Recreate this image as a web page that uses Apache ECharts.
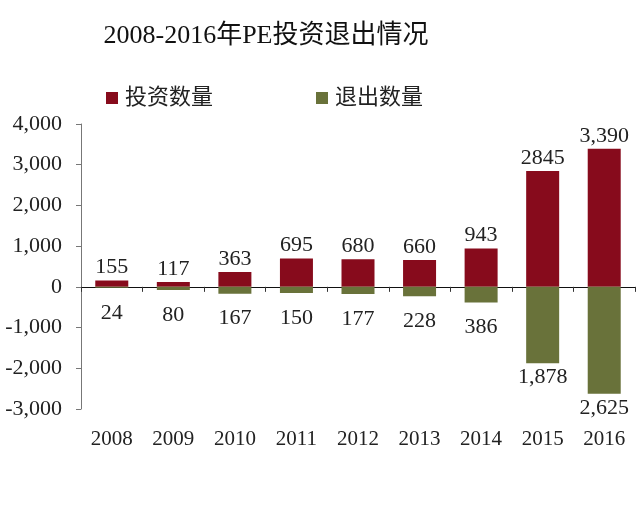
<!DOCTYPE html>
<html><head><meta charset="utf-8">
<script src="https://cdn.jsdelivr.net/npm/echarts@6/dist/echarts.min.js"></script>
<style>html,body{margin:0;padding:0;background:#fff}#c{width:640px;height:511px}</style>
</head><body><div id="c"></div>
<script>
const years = ['2008','2009','2010','2011','2012','2013','2014','2015','2016'];
const investCount = [155,117,363,695,680,660,943,2845,3390];
const exitCount = [24,80,167,150,177,228,386,1878,2625];
const investLabels = ['155','117','363','695','680','660','943','2845','3,390'];
const exitLabels = ['24','80','167','150','177','228','386','1,878','2,625'];
const yTicks = {min:-3000, max:4000, interval:1000};

const FONT = '"Liberation Serif", "Noto Sans CJK SC", serif';
const RED = '#870b1c';
const GREEN = '#69723a';

const exitData = exitCount.map((v, i) => ({
  value: -v,
  label: {distance: v > 1000 ? 3 : 14}
}));

const chart = echarts.init(document.getElementById('c'), null, {renderer:'canvas'});
chart.setOption({
  backgroundColor:'#fff',
  animation:false,
  title:{text:'2008-2016年PE投资退出情况', left:261, textAlign:'center', top:18,
    textStyle:{fontFamily:FONT, fontSize:26, fontWeight:'normal', color:'#111'}},
  legend:{left:101, top:82, itemWidth:12, itemHeight:12, itemGap:103, icon:'rect',
    textStyle:{fontFamily:FONT, fontSize:22, color:'#222', padding:[0,0,0,2]},
    data:['投资数量','退出数量']},
  grid:{left:81, right:5, top:124, bottom:102},
  xAxis:[
    {type:'category', data:years, axisLine:{onZero:true, lineStyle:{color:'#111', width:1.2}},
     axisTick:{show:true, length:5, lineStyle:{color:'#333'}}, axisLabel:{show:false}},
    {type:'category', data:years, position:'bottom', axisLine:{show:false, onZero:false},
     axisTick:{show:false}, axisLabel:{fontFamily:FONT, fontSize:21, color:'#222', margin:20}}
  ],
  yAxis:{type:'value', min:yTicks.min, max:yTicks.max, interval:yTicks.interval,
    axisLine:{show:true, lineStyle:{color:'#777'}},
    axisTick:{show:true, length:5, lineStyle:{color:'#777'}},
    splitLine:{show:false},
    axisLabel:{fontFamily:FONT, fontSize:22, color:'#222', margin:19,
      formatter:v=>v.toLocaleString('en-US')}},
  series:[
    {name:'投资数量', type:'bar', xAxisIndex:0, data:investCount, barWidth:33, barGap:'-100%',
     itemStyle:{color:RED},
     label:{show:true, position:'top', distance:2, fontFamily:FONT, fontSize:22, color:'#222',
       formatter:p=>investLabels[p.dataIndex]}},
    {name:'退出数量', type:'bar', xAxisIndex:0, data:exitData, barWidth:33,
     itemStyle:{color:GREEN},
     label:{show:true, position:'bottom', fontFamily:FONT, fontSize:22, color:'#222',
       formatter:p=>exitLabels[p.dataIndex]}}
  ]
});
</script></body></html>
